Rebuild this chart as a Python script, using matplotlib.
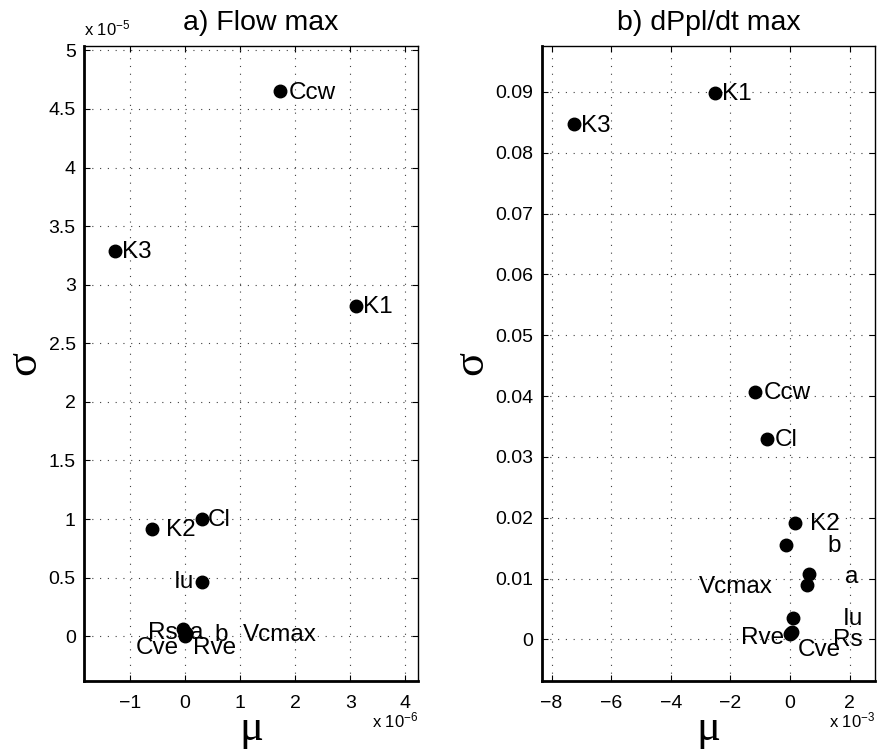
import numpy as np
import matplotlib
matplotlib.use('Agg')
import matplotlib.pyplot as plt
from matplotlib.ticker import FuncFormatter

plt.rcParams['font.family'] = ['Liberation Sans', 'DejaVu Sans']
plt.rcParams['mathtext.fontset'] = 'custom'
plt.rcParams['mathtext.rm'] = 'Liberation Sans'
plt.rcParams['mathtext.default'] = 'regular'

params = ['Rs', 'Cve', 'Rve', 'Iu', 'Cl', 'Ccw', 'K1', 'K2', 'K3', 'a', 'b', 'Vcmax']

# a) Flow max  (mu in 1e-6, sigma in 1e-5)
mu_flow = [-0.03, 0.00, 0.02, 0.31, 0.31, 1.73, 3.11, -0.60, -1.26, 0.02, 0.01, 0.00]
sigma_flow = [0.06, 0.02, 0.02, 0.46, 1.00, 4.65, 2.82, 0.915, 3.29, 0.03, 0.01, 0.00]

# b) dPpl/dt max  (mu in 1e-3, sigma plain)
mu_dppl = [0.05, 0.02, 0.00, 0.10, -0.78, -1.17, -2.52, 0.17, -7.25, 0.63, -0.13, 0.57]
sigma_dppl = [0.0012, 0.0010, 0.0009, 0.0035, 0.0330, 0.0407, 0.0899, 0.0192, 0.0847, 0.0107, 0.0155, 0.0089]

# label offsets (points) and alignment, as placed in the original figure
off_flow = {'Rs': (-4, -3, 'right'), 'Cve': (-4, -10, 'right'), 'Rve': (5, -10, 'left'),
            'Iu': (-6, 0, 'right'), 'Cl': (4, -1, 'left'), 'Ccw': (6, -1, 'left'),
            'K1': (5, -1, 'left'), 'K2': (10, -1, 'left'), 'K3': (5, -1, 'left'),
            'a': (3, 0, 'left'), 'b': (21, 0, 'left'), 'Vcmax': (42, 1, 'left')}
off_dppl = {'Rs': (30, -6, 'left'), 'Cve': (5, -12, 'left'), 'Rve': (-4, -3, 'right'),
            'Iu': (36, -1, 'left'), 'Cl': (6, -1, 'left'), 'Ccw': (6, -1, 'left'),
            'K1': (5, -1, 'left'), 'K2': (11, -1, 'left'), 'K3': (5, -1, 'left'),
            'a': (26, -2, 'left'), 'b': (30, -1, 'left'), 'Vcmax': (-25, -1, 'right')}

fig = plt.figure(figsize=(8.77, 7.51), dpi=100)
ax1 = fig.add_axes([0.0958, 0.0936, 0.381, 0.8455])
ax2 = fig.add_axes([0.6177, 0.0936, 0.380, 0.8455])


def style_axes(ax):
    ax.grid(True, color='0.25', linestyle=(0, (1, 6)), linewidth=0.8)
    ax.tick_params(direction='in', top=True, right=True, length=4, width=0.8,
                   labelsize=14, pad=10)
    ax.tick_params(axis='y', pad=6)
    for s in ['top', 'right']:
        ax.spines[s].set_linewidth(1.0)
    for s in ['bottom', 'left']:
        ax.spines[s].set_linewidth(2.0)
    ax.xaxis.set_major_formatter(FuncFormatter(lambda v, p: '%g' % v if v >= 0 else '\u2212%g' % -v))
    ax.yaxis.set_major_formatter(FuncFormatter(lambda v, p: '%g' % round(v, 4)))


def draw(ax, mu, sig, offs):
    ax.plot(mu, sig, 'o', color='k', markersize=9, linestyle='none')
    for name, x, y in zip(params, mu, sig):
        dx, dy, ha = offs[name]
        ax.annotate(name, (x, y), xytext=(dx, dy), textcoords='offset points',
                    ha=ha, va='center', fontsize=17.5)


draw(ax1, mu_flow, sigma_flow, off_flow)
ax1.set_xlim(-1.83, 4.23)
ax1.set_ylim(-0.38, 5.04)
ax1.set_xticks(np.arange(-1, 5, 1))
ax1.set_yticks(np.arange(0, 5.01, 0.5))
style_axes(ax1)
ax1.set_title('a) Flow max', fontsize=20.5, pad=11, x=0.53)
ax1.text(0, 1.012, r'x 10$^{-5}$', transform=ax1.transAxes, fontsize=12, ha='left', va='bottom')
ax1.text(1, -0.047, r'x 10$^{-6}$', transform=ax1.transAxes, fontsize=12, ha='right', va='top')

draw(ax2, mu_dppl, sigma_dppl, off_dppl)
ax2.set_xlim(-8.33, 2.85)
ax2.set_ylim(-0.0068, 0.0976)
ax2.set_xticks(np.arange(-8, 3, 2))
ax2.set_yticks(np.arange(0, 0.0901, 0.01))
style_axes(ax2)
ax2.set_title('b) dPpl/dt max', fontsize=20.5, pad=11)
ax2.text(1, -0.047, r'x 10$^{-3}$', transform=ax2.transAxes, fontsize=12, ha='right', va='top')

for ax in (ax1, ax2):
    ax.set_xlabel('\u03bc', family='Liberation Serif', fontsize=32, labelpad=-2)
    ax.set_ylabel('\u03c3', family='Liberation Serif', fontsize=32, labelpad=3, rotation=90)

fig.savefig('out.png', dpi=100)
